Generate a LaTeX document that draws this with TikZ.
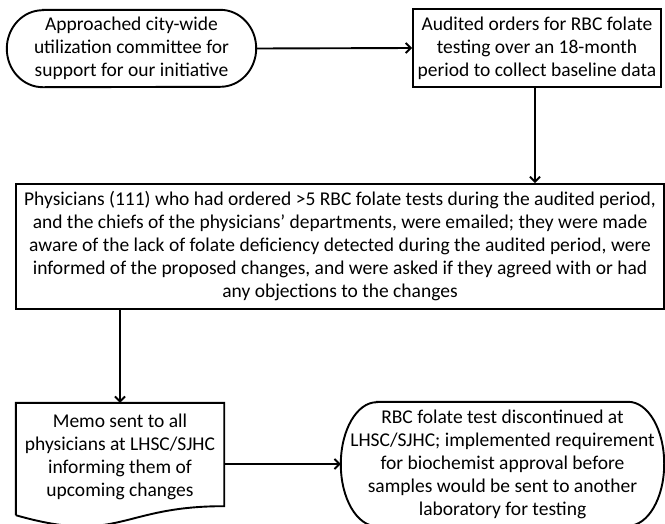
\documentclass[tikz,border=0pt]{standalone}
\usepackage{fontspec}
\setmainfont{Carlito}
\usetikzlibrary{arrows.meta}

\begin{document}
\begin{tikzpicture}[x=1pt,y=1pt,
		txt/.style={align=center,inner sep=0pt,font=\fontsize{19.5pt}{23pt}\selectfont},
		boxed/.style={txt,draw,line width=1.9pt},
		arr/.style={line width=1.9pt,-{Straight Barb[length=5pt,width=10pt]}}]
		
		\useasboundingbox (0,0) rectangle (665,-523);
		\clip (0,0) rectangle (665,-523);
		
		%terminals and boxes
		\node[txt,minimum width=249pt,minimum height=77pt] (approach) at (131.5,-48.5) {Approached city-wide\\utilization committee for\\support for our initiative};
		\node[boxed,minimum width=248pt,minimum height=78pt] (audit) at (537,-48) {Audited orders for RBC folate\\testing over an 18-month\\period to collect baseline data};
		\node[boxed,minimum width=648pt,minimum height=125pt] (email) at (340,-246.5) {Physicians (111) who had ordered >5 RBC folate tests during the audited period,\\and the chiefs of the physicians’ departments, were emailed; they were made\\aware of the lack of folate deficiency detected during the audited period, were\\informed of the proposed changes, and were asked if they agreed with or had\\any objections to the changes};
		\node[txt,minimum width=208pt,minimum height=108pt] (memo) at (120,-457) {Memo sent to all\\physicians at LHSC/SJHC\\informing them of\\upcoming changes};
		\node[txt,minimum width=323pt,minimum height=124pt] (discont) at (502.5,-464) {RBC folate test discontinued at\\LHSC/SJHC; implemented requirement\\for biochemist approval before\\samples would be sent to another\\laboratory for testing};
		
		%outlines
		\foreach \nd/\ry in {approach/38.5, discont/62}
		\draw[line width=1.9pt] ([xshift=36pt]\nd.north west) -- ([xshift=-36pt]\nd.north east)
			arc[start angle=90,end angle=-90,x radius=36pt,y radius=\ry pt]
			-- ([xshift=36pt]\nd.south west)
			arc[start angle=270,end angle=90,x radius=36pt,y radius=\ry pt] -- cycle;
		
		\draw[line width=1.9pt] ([yshift=-4pt]memo.south west) -- (memo.north west) -- (memo.north east) -- ([yshift=5pt]memo.south east)
			.. controls (120,-506) and (120,-545) .. ([yshift=-4pt]memo.south west);
		
		%arrows
		\draw[arr] (approach.east) -- (audit.west);
		\draw[arr] ([xshift=-2pt]audit.south) -- ([xshift=-2pt]audit.south |- email.north);
		\draw[arr] (memo.north |- email.south) -- (memo.north);
		\draw[arr] (memo.east |- discont.west) -- (discont.west);
		
		\end{tikzpicture}
\end{document}
